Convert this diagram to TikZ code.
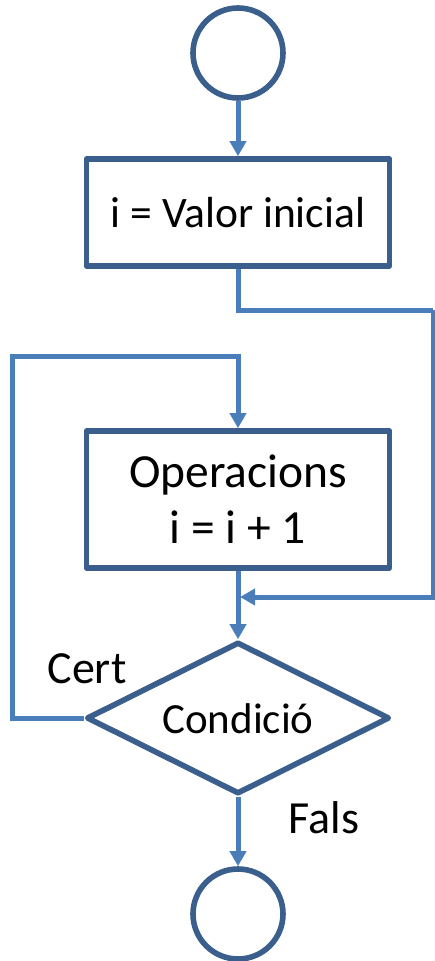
\documentclass[tikz,border=0pt]{standalone}
\usepackage{fontspec}
\setmainfont{Carlito}
\usetikzlibrary{arrows.meta,shapes.geometric}
\definecolor{boxline}{HTML}{3A5F8C}
\definecolor{flowline}{HTML}{4A7EBB}
\begin{document}
\begin{tikzpicture}[x=1pt,y=-1pt,
  shapeline/.style={draw=boxline,line width=5.6pt,fill=white,inner sep=0pt},
  terminal/.style={shapeline,circle,minimum size=90pt},
  process/.style={shapeline,rectangle,minimum width=303pt,line join=round},
  decision/.style={shapeline,diamond,minimum width=303pt,minimum height=152pt,line join=round},
  conn/.style={draw=flowline,line width=5pt},
  arr/.style={conn,-{Triangle[length=15pt,width=16pt]}},
  lbl/.style={inner sep=0pt,anchor=base}]
\useasboundingbox (0,0) rectangle (435,961);

% nodes of the flowchart
\node[terminal] (start) at (238,53) {};
\node[process,minimum height=107pt,font=\fontsize{43.5}{52}\selectfont] (init) at (238,212.5) {i = Valor inicial};
\node[process,minimum height=137pt,font=\fontsize{47.5}{56}\selectfont,align=center] (op) at (238,499.5) {Operacions\\i = i + 1};
\node[decision] (cond) at (238,718) {};
\node[lbl,font=\fontsize{43}{52}\selectfont] (condtxt) at (238,733) {Condició};
\node[terminal] (stop) at (238,914) {};

% labels of the branches
\node[lbl,font=\fontsize{46}{55}\selectfont] (cert) at (87,683) {Cert};
\node[lbl,font=\fontsize{46}{55}\selectfont] (fals) at (324,833) {Fals};

% corner points of the connectors
\coordinate (rtop) at (433,310);
\coordinate (join) at (240,597);
\coordinate (ltop) at (12,356);

% connectors
\draw[arr] (start) -- (init);
\draw[conn] (init.south) |- (rtop);
\draw[arr] (rtop) |- (join);
\draw[arr] (op.south) -- (cond.north);
\draw[arr] (cond.west) -| (ltop) -| (op.north);
\draw[arr] (cond.south) -- (stop.north);
\end{tikzpicture}
\end{document}
